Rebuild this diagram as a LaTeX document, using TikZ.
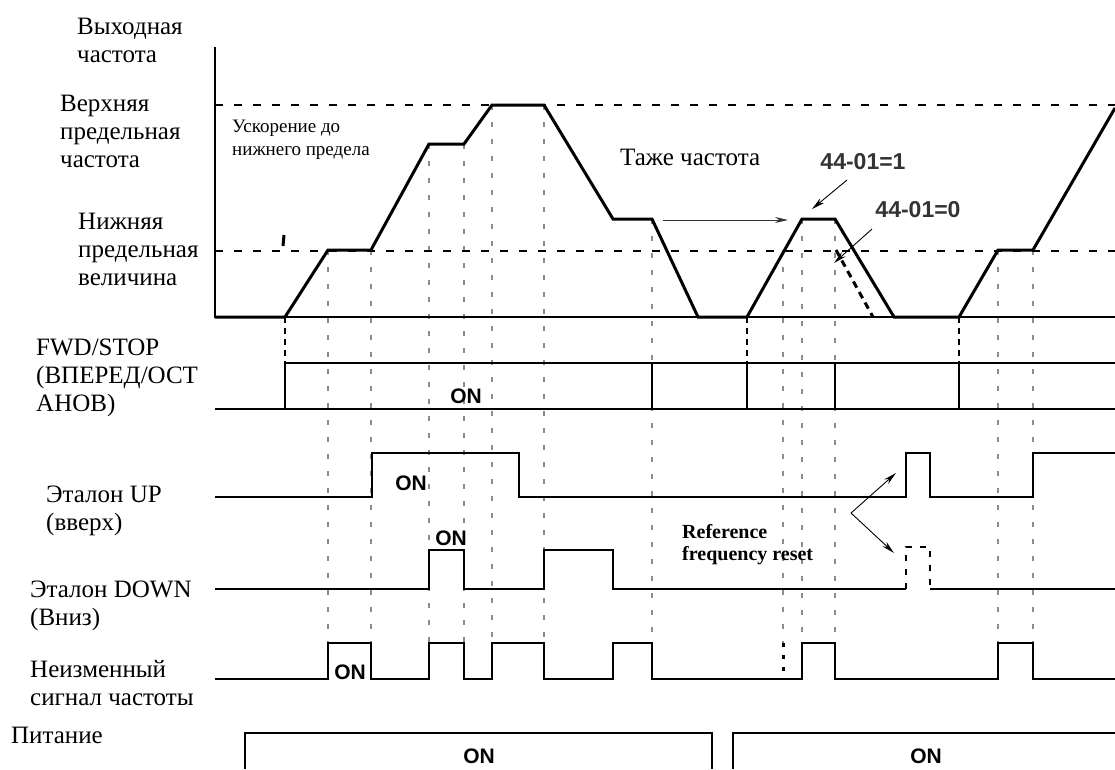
\documentclass[tikz,border=0pt]{standalone}
\usepackage{fontspec}
\setmainfont{Liberation Serif}
\setsansfont{Liberation Sans}
\usetikzlibrary{arrows.meta}

\begin{document}
\begin{tikzpicture}[x=1pt,y=-1pt,
  every node/.style={inner sep=0pt},
  lbl/.style={anchor=base west,align=left,font=\fontsize{25}{28}\selectfont},
  small lbl/.style={anchor=base west,align=left,font=\fontsize{19}{23}\selectfont},
  on label/.style={font=\fontsize{21}{24}\selectfont\sffamily\bfseries},
  par label/.style={font=\fontsize{23}{26}\selectfont\sffamily\bfseries,text=black!80},
  sig/.style={line width=2.6pt,line join=miter},
  rail/.style={line width=1.4pt},
  guide/.style={black!45,line width=1.1pt,dash pattern=on 5pt off 12pt},
  sync line/.style={line width=1.8pt,dash pattern=on 6pt off 5pt},
  limit/.style={line width=2pt,dash pattern=on 8pt off 11pt},
  note/.style={line width=0.9pt,->},
  >={Stealth[length=13pt,width=6pt]}]
\useasboundingbox (0,0) rectangle (1115,769);

\node[lbl] (outfreq) at (77,62) {Выходная\\частота};
\node[lbl] (upperlim) at (60,167) {Верхняя\\предельная\\частота};
\node[lbl] (lowerlim) at (78,285) {Нижняя\\предельная\\величина};
\node[lbl] (fwdlbl) at (36,411) {FWD/STOP\\(ВПЕРЕД/ОСТ\\АНОВ)};
\node[lbl] (uplbl) at (46,530) {Эталон UP\\(вверх)};
\node[lbl] (downlbl) at (30,625) {Эталон DOWN\\(Вниз)};
\node[lbl] (holdlbl) at (30,705) {Неизменный\\сигнал частоты};
\node[lbl] (powerlbl) at (11,743) {Питание};

% guide lines
\foreach \gx/\gt in {328/250,371/250,429/144,464/144,492/105,544/105,652/219,783/250,802/219,835/219,998/250,1033/250}
  \draw[guide] (\gx,\gt) -- (\gx,643);
\foreach \gx in {285,747,959}
  \draw[sync line] (\gx,317) -- (\gx,363);

% output frequency
\draw[line width=1.8pt] (215,47) -- (215,317) -- (1115,317);
\draw[limit] (215,105) -- (1115,105);
\draw[limit] (215,251) -- (1115,251);
\draw[sig,line width=3pt] (215,317) -- (285,317) -- (328,250) -- (371,250) -- (429,144) -- (464,144)
  -- (492,105) -- (544,105) -- (613,219) -- (652,219) -- (698,317) -- (747,317) -- (802,219)
  -- (835,219) -- (894,317) -- (959,317) -- (998,250) -- (1033,250) -- (1115,108);
\draw[line width=3pt,dash pattern=on 7pt off 5pt] (836,250) -- (873,317);
\draw[line width=3pt] (284,235) -- (283,246);

\node[small lbl] (accel) at (232,155) {Ускорение до\\нижнего предела};
\node[lbl] (same) at (620,165) {Таже частота};
\node[par label] (par1) at (863,162) {44-01=1};
\node[par label] (par0) at (918,210) {44-01=0};
\coordinate (samefrom) at (663,220);
\coordinate (sameto) at (788,220);
\draw[note,black!80] (samefrom) -- (sameto);
\coordinate (p1from) at (847,180);
\coordinate (p1to) at (812,209);
\draw[note] (p1from) -- (p1to);
\coordinate (p0from) at (872,229);
\coordinate (p0to) at (834,263);
\draw[note] (p0from) -- (p0to);

% FWD/STOP
\draw[rail] (215,409) -- (1115,409);
\draw[rail] (285,363) -- (1115,363);
\draw[sig] (215,409) -- (285,409) -- (285,363) -- (652,363) -- (652,409) -- (747,409) -- (747,363)
  -- (835,363) -- (835,409) -- (959,409) -- (959,363) -- (1115,363);
\node[on label] (fwdon) at (466,396) {ON};

% UP
\draw[sig] (215,497) -- (372,497) -- (372,453) -- (519,453) -- (519,497) -- (906,497) -- (906,453)
  -- (930,453) -- (930,497) -- (1033,497) -- (1033,453) -- (1115,453);
\node[on label] (upon) at (411,483) {ON};

% DOWN
\draw[sig] (215,589) -- (429,589) -- (429,550) -- (464,550) -- (464,589) -- (544,589) -- (544,550)
  -- (613,550) -- (613,589) -- (906,589);
\draw[sig] (930,589) -- (1115,589);
\draw[sig,dash pattern=on 6pt off 8pt] (906,589) -- (906,547) -- (930,547) -- (930,589);
\node[on label] (downon) at (451,538) {ON};

\node[small lbl,font=\fontsize{20}{22}\selectfont\bfseries] (reset) at (682,560) {Reference\\frequency reset};
\coordinate (resetfork) at (851,513);
\coordinate (resetup) at (896,473);
\coordinate (resetdown) at (894,553);
\draw[note] (resetfork) -- (resetup);
\draw[note] (resetfork) -- (resetdown);

% hold
\draw[sig] (215,679) -- (328,679) -- (328,643) -- (371,643) -- (371,679) -- (429,679) -- (429,643)
  -- (464,643) -- (464,679) -- (492,679) -- (492,643) -- (544,643) -- (544,679) -- (613,679)
  -- (613,643) -- (652,643) -- (652,679) -- (802,679) -- (802,643) -- (835,643) -- (835,679)
  -- (998,679) -- (998,643) -- (1033,643) -- (1033,679) -- (1115,679);
\draw[line width=3pt,dash pattern=on 4pt off 8pt] (783,643) -- (783,679);
\node[on label] (holdon) at (350,672) {ON};

% power
\draw[sig] (245,769) -- (245,733) -- (712,733) -- (712,769);
\draw[sig] (733,769) -- (733,733) -- (1115,733);
\node[on label] (poweron1) at (479,756) {ON};
\node[on label] (poweron2) at (926,756) {ON};
\end{tikzpicture}
\end{document}
